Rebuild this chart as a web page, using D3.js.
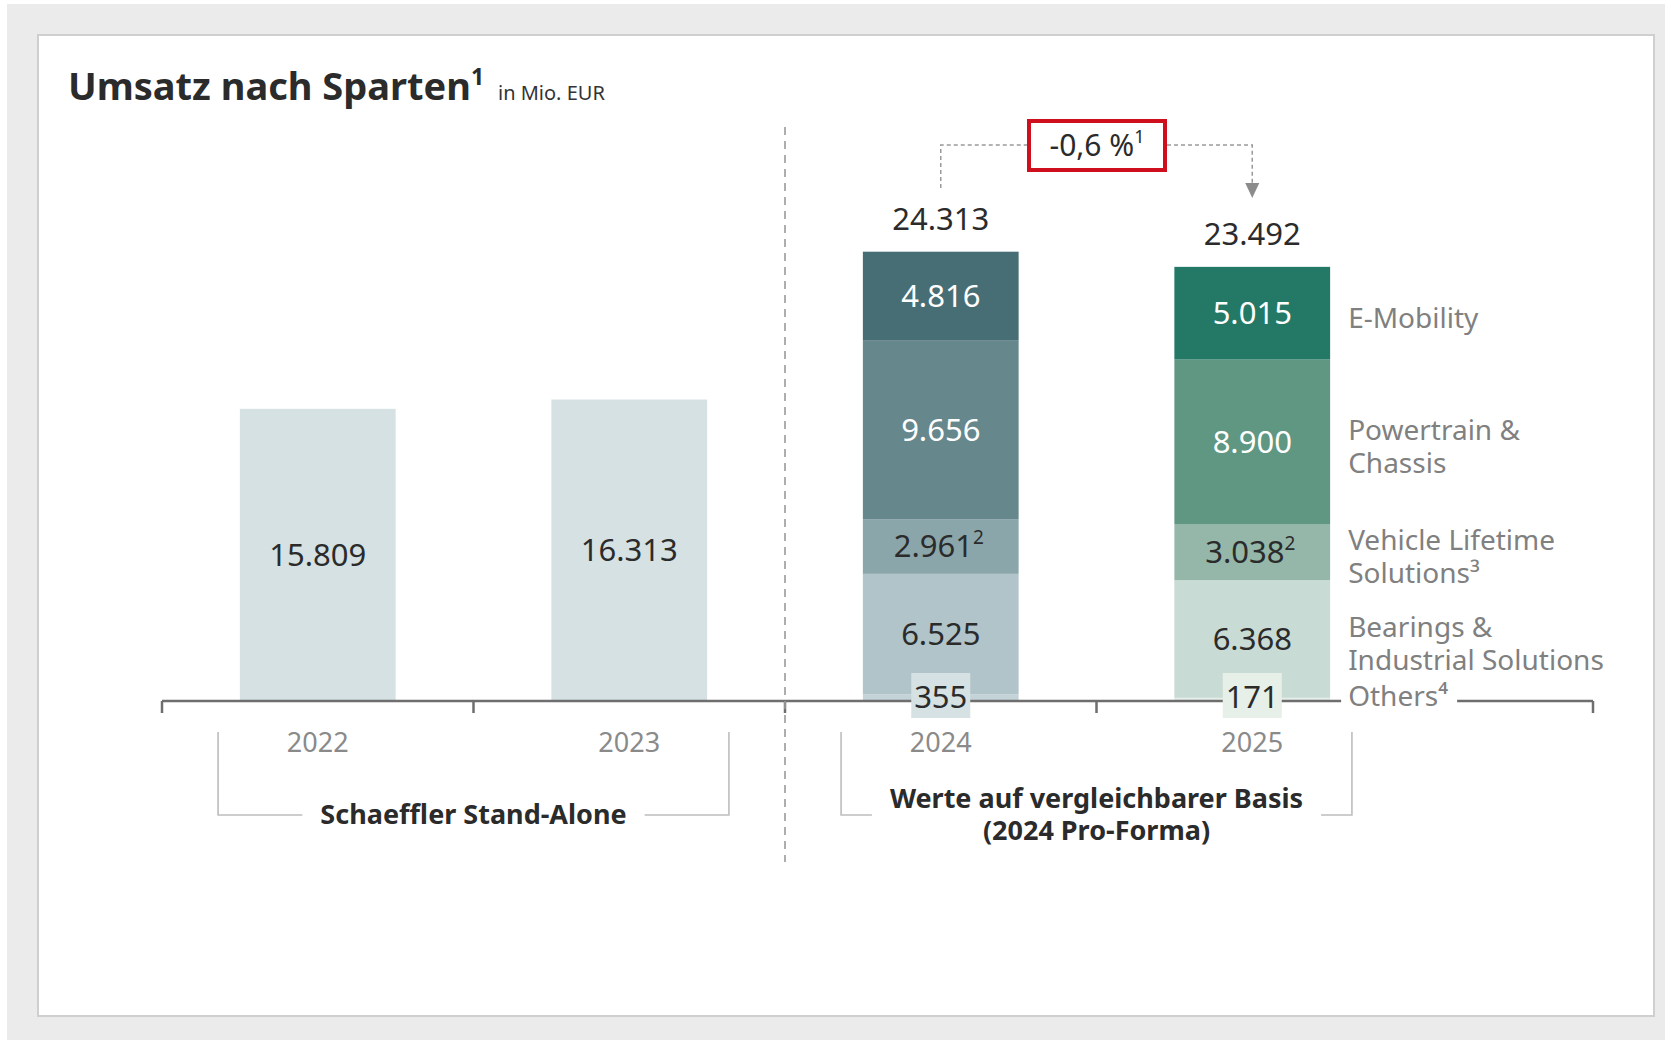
<!DOCTYPE html>
<html>
<head>
<meta charset="utf-8">
<script src="https://cdn.jsdelivr.net/npm/d3@7"></script>
<style>
  html, body { margin: 0; padding: 0; background: #ffffff; }
  svg { display: block; font-family: "Noto Sans", "Open Sans", sans-serif; }
</style>
</head>
<body>
<svg id="chart" width="1665" height="1040"></svg>
<script>
// ---------- DATA ----------
const years = ["2022", "2023", "2024", "2025"];
const standAloneValues = [15809, 16313, null, null];
const othersValues = [null, null, 355, 171];
const bearingsValues = [null, null, 6525, 6368];
const vehicleLifetimeValues = [null, null, 2961, 3038];
const powertrainValues = [null, null, 9656, 8900];
const eMobilityValues = [null, null, 4816, 5015];
const totalValues = [null, null, 24313, 23492];
const segmentKeys = ["others", "bearings", "vls", "powertrain", "emobility"];
const segmentFootnotes = { vls: "2" };
const segmentLabels = [
  { key: "emobility", lines: ["E-Mobility"] },
  { key: "powertrain", lines: ["Powertrain &", "Chassis"] },
  { key: "vls", lines: ["Vehicle Lifetime", "Solutions³"] },
  { key: "bearings", lines: ["Bearings &", "Industrial Solutions"] }
];
const othersLabel = "Others⁴";
const groupLabels = [
  { years: ["2022", "2023"], lines: ["Schaeffler Stand-Alone"] },
  { years: ["2024", "2025"], lines: ["Werte auf vergleichbarer Basis", "(2024 Pro-Forma)"] }
];
const changeLabel = "-0,6 %";
const titleText = "Umsatz nach Sparten";
const unitText = "in Mio. EUR";

// ---------- STYLES ----------
const colorStandAlone = "#d5e1e3";
const segmentColors = {
  "2024": { others: "#c3d3d7", bearings: "#b0c4c9", vls: "#8ba6ab", powertrain: "#66878c", emobility: "#476e74" },
  "2025": { others: "#e6efe8", bearings: "#c9dbd5", vls: "#94b7aa", powertrain: "#5f9782", emobility: "#237965" }
};
const othersBoxColors = { "2024": "#d5e1e3", "2025": "#e6efe8" };
const whiteText = { powertrain: true, emobility: true };
const dark = "#2b2b2b";

const locale = d3.formatLocale({ decimal: ",", thousands: ".", grouping: [3], currency: ["", " €"] });
const fmt = locale.format(",d");

const svg = d3.select("#chart");

// background & card
svg.append("rect").attr("x", 7).attr("y", 4).attr("width", 1658).attr("height", 1036).attr("fill", "#ebebeb");
svg.append("rect").attr("x", 38).attr("y", 35).attr("width", 1616).attr("height", 981)
  .attr("fill", "#ffffff").attr("stroke", "#cfcfcf").attr("stroke-width", 2);

// title
const title = svg.append("text").attr("x", 68).attr("y", 100).attr("fill", dark)
  .attr("font-size", 38).attr("font-weight", 700);
title.append("tspan").text(titleText);
title.append("tspan").attr("font-size", 23).attr("dy", -15).text("1");
svg.append("text").attr("x", 498).attr("y", 100).attr("fill", "#333")
  .attr("font-size", 20).text(unitText);

// ---------- SCALES ----------
const axisY = 701;
const x = d3.scaleBand().domain(years).range([162, 1408]).paddingInner(0.5).paddingOuter(0.25);
const y = d3.scaleLinear().domain([0, 25000]).range([axisY, 239]);
const step = x.step();
const bw = x.bandwidth();
const cx = d => x(d) + bw / 2;

// ---------- STAND-ALONE BARS ----------
const saData = years.map((yr, i) => ({ year: yr, value: standAloneValues[i] })).filter(d => d.value != null);
svg.append("g").selectAll("rect").data(saData).join("rect")
  .attr("x", d => x(d.year)).attr("width", bw)
  .attr("y", d => y(d.value)).attr("height", d => y(0) - y(d.value))
  .attr("fill", colorStandAlone);
svg.append("g").selectAll("text").data(saData).join("text")
  .attr("x", d => cx(d.year)).attr("y", d => (y(d.value) + y(0)) / 2 + 11)
  .attr("text-anchor", "middle").attr("font-size", 31).attr("fill", dark)
  .text(d => fmt(d.value));

// ---------- STACKED BARS ----------
const stackRows = years.map((yr, i) => ({
  year: yr,
  others: othersValues[i], bearings: bearingsValues[i], vls: vehicleLifetimeValues[i],
  powertrain: powertrainValues[i], emobility: eMobilityValues[i], total: totalValues[i]
})).filter(d => d.others != null);
const stack = d3.stack().keys(segmentKeys);
const series = stack(stackRows);

const segs = [];
series.forEach(s => s.forEach(p => segs.push({ key: s.key, year: p.data.year, y0: p[0], y1: p[1], value: p.data[s.key] })));

svg.append("g").selectAll("rect").data(segs).join("rect")
  .attr("x", d => x(d.year)).attr("width", bw)
  .attr("y", d => y(d.y1)).attr("height", d => y(d.y0) - y(d.y1))
  .attr("fill", d => segmentColors[d.year][d.key]);

// ---------- AXIS ----------
const axisG = svg.append("g").attr("stroke", "#6e6e6e").attr("stroke-width", 2.5);
axisG.append("line").attr("x1", x.range()[0]).attr("x2", 1593).attr("y1", axisY).attr("y2", axisY);
const tickXs = years.map(yr => x(yr) - step * 0.25).concat([1593]);
axisG.selectAll("line.tick").data(tickXs).join("line").attr("class", "tick")
  .attr("x1", d => d).attr("x2", d => d).attr("y1", axisY).attr("y2", axisY + 12);

// segment labels (non-others)
const segLabelG = svg.append("g");
segs.filter(d => d.key !== "others").forEach(d => {
  const t = segLabelG.append("text")
    .attr("x", cx(d.year) + (segmentFootnotes[d.key] ? -2 : 0))
    .attr("y", (y(d.y0) + y(d.y1)) / 2 + 11)
    .attr("text-anchor", "middle").attr("font-size", 31)
    .attr("fill", whiteText[d.key] ? "#ffffff" : dark);
  t.append("tspan").text(fmt(d.value));
  if (segmentFootnotes[d.key]) t.append("tspan").attr("font-size", 19).attr("dy", -13).text(segmentFootnotes[d.key]);
});

// others label boxes
const othersSegs = segs.filter(d => d.key === "others");
svg.append("g").selectAll("rect").data(othersSegs).join("rect")
  .attr("x", d => cx(d.year) - 29.5).attr("width", 59)
  .attr("y", axisY - 28).attr("height", 45)
  .attr("fill", d => othersBoxColors[d.year]);
svg.append("g").selectAll("text").data(othersSegs).join("text")
  .attr("x", d => cx(d.year)).attr("y", axisY + 7)
  .attr("text-anchor", "middle").attr("font-size", 31).attr("fill", dark)
  .text(d => fmt(d.value));

// totals
svg.append("g").selectAll("text").data(stackRows).join("text")
  .attr("x", d => cx(d.year)).attr("y", d => y(d.total) - 22)
  .attr("text-anchor", "middle").attr("font-size", 31).attr("fill", dark)
  .text(d => fmt(d.total));

// right-side category labels (aligned to last year's segments)
const lastYear = years[years.length - 1];
const labelX = x(lastYear) + bw + 18;
const labG = svg.append("g").attr("font-size", 28).attr("fill", "#808080");
segmentLabels.forEach(l => {
  const s = segs.find(d => d.key === l.key && d.year === lastYear);
  const mid = (y(s.y0) + y(s.y1)) / 2;
  const t = labG.append("text").attr("x", labelX);
  if (l.lines.length === 1) {
    t.attr("y", mid + 15).text(l.lines[0]);
  } else {
    l.lines.forEach((ln, i) => t.append("tspan").attr("x", labelX).attr("y", mid - 2 + i * 33).text(ln));
  }
});
// Others label with gap in axis
labG.append("rect").attr("x", labelX - 7).attr("y", axisY - 24).attr("width", 116).attr("height", 30).attr("fill", "#ffffff");
labG.append("text").attr("x", labelX).attr("y", axisY + 5).text(othersLabel);

// year labels
svg.append("g").selectAll("text").data(years).join("text")
  .attr("x", d => cx(d)).attr("y", 752)
  .attr("text-anchor", "middle").attr("font-size", 27).attr("fill", "#8a8a8a")
  .text(d => d);

// divider dashed line
const divX = x("2024") - step * 0.25;
svg.append("line").attr("x1", divX).attr("x2", divX).attr("y1", 127).attr("y2", 862)
  .attr("stroke", "#9a9a9a").attr("stroke-width", 1.6).attr("stroke-dasharray", "8,6");

// group brackets
const bracketG = svg.append("g");
groupLabels.forEach((g, gi) => {
  const left = x(g.years[0]) - bw * 0.14;
  const right = x(g.years[1]) + bw * 1.14;
  const midX = (left + right) / 2;
  const top = 732, bottom = 815;
  const textG = bracketG.append("text").attr("text-anchor", "middle").attr("font-size", 27)
    .attr("font-weight", 700).attr("fill", dark);
  const baseY = g.lines.length === 1 ? 824 : 808;
  g.lines.forEach((ln, i) => textG.append("tspan").attr("x", midX).attr("y", baseY + i * 32).text(ln));
  const w = textG.node().getBBox().width;
  const gap = w / 2 + 18;
  bracketG.append("path")
    .attr("d", `M${left},${top}V${bottom}H${midX - gap}M${midX + gap},${bottom}H${right}V${top}`)
    .attr("fill", "none").attr("stroke", "#bdbdbd").attr("stroke-width", 1.6);
});

// change callout
const x24 = cx("2024"), x25 = cx("2025");
const callY = 145;
const boxL = 1027, boxR = 1167;
const callG = svg.append("g").attr("stroke", "#9a9a9a").attr("stroke-width", 1.5).attr("fill", "none").attr("stroke-dasharray", "4,3");
callG.append("path").attr("d", `M${x24},188V${callY}H${boxL}`);
callG.append("path").attr("d", `M${boxR},${callY}H${x25}V183`);
svg.append("path")
  .attr("d", `M${x25 - 7},183L${x25 + 7},183L${x25},198Z`)
  .attr("fill", "#8c8c8c");
svg.append("rect").attr("x", boxL + 2).attr("y", 121).attr("width", boxR - boxL - 4).attr("height", 49)
  .attr("fill", "#ffffff").attr("stroke", "#cf0f1e").attr("stroke-width", 4);
const ct = svg.append("text").attr("x", (boxL + boxR) / 2).attr("y", 156).attr("text-anchor", "middle")
  .attr("font-size", 30).attr("fill", dark);
ct.append("tspan").text(changeLabel);
ct.append("tspan").attr("font-size", 18).attr("dy", -13).text("1");
</script>
</body>
</html>
